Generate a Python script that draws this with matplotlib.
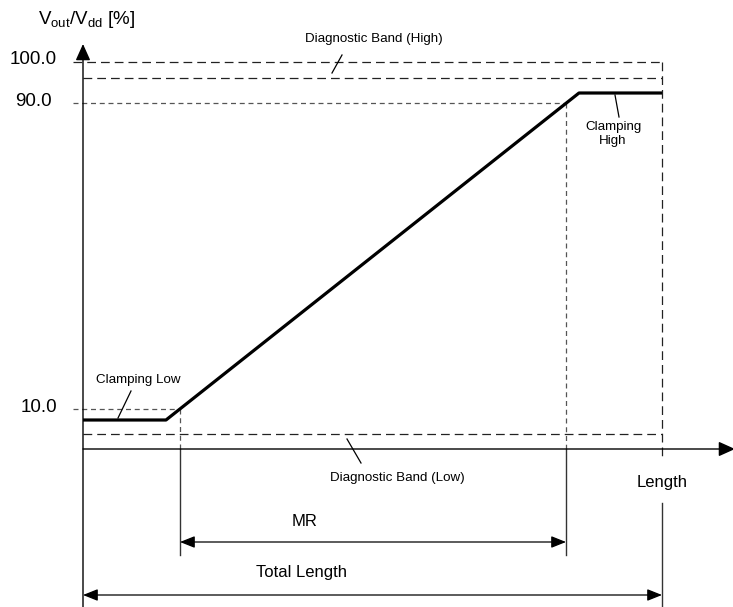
import matplotlib
matplotlib.use("Agg")
import matplotlib.pyplot as plt

plt.rcParams['font.family'] = ['Liberation Sans', 'DejaVu Sans']
plt.rcParams['mathtext.fontset'] = 'custom'
plt.rcParams['mathtext.rm'] = 'Liberation Sans'

# schematic units, origin where the two axes meet
x_axis_end = 652
y_axis_top = 405
y_axis_bottom = -158

# levels on the vertical axis
tick_levels = [40, 346, 387]
tick_labels = ['10.0', '90.0', '100.0']
tick_label_right = [-26, -31, -26]
y_band_high = 371
y_band_low = 15

# positions along the length
x_mr_start = 97
x_mr_end = 483
x_length = 579

# output characteristic (clamp low, ramp, clamp high)
curve_x = [0, 83, 496, 579]
curve_y = [29, 29, 356, 356]

fig = plt.figure(figsize=(7.33, 6.07), dpi=100)
ax = fig.add_axes([0, 0, 1, 1])
ax.set_xlim(-83, 650)
ax.set_ylim(-158, 449)
ax.axis('off')

long_dash = dict(color='#222222', lw=0.9, dashes=(7, 4))
short_dash = dict(color='#555555', lw=0.9, dashes=(4, 3))
solid_thin = dict(color='#333333', lw=1.0)

# axes with arrows
axis_arrow = dict(arrowstyle='-|>,head_length=1.0,head_width=0.45',
                  mutation_scale=10, color='black', lw=1.0,
                  shrinkA=0, shrinkB=0)
ax.annotate('', xy=(0, y_axis_top), xytext=(0, y_axis_bottom),
            arrowprops=axis_arrow, annotation_clip=False)
ax.annotate('', xy=(x_axis_end, 0), xytext=(0, 0),
            arrowprops=axis_arrow, annotation_clip=False)

# horizontal reference lines
y10, y90, y100 = tick_levels
ax.plot([-10, x_length], [y100, y100], **long_dash)
ax.plot([0, x_length], [y_band_high, y_band_high], **long_dash)
ax.plot([-10, x_mr_end], [y90, y90], **short_dash)
ax.plot([-10, x_mr_start], [y10, y10], **short_dash)
ax.plot([0, x_length], [y_band_low, y_band_low], **long_dash)

# vertical reference lines
ax.plot([x_mr_start, x_mr_start], [y10, 0], **short_dash)
ax.plot([x_mr_end, x_mr_end], [y90, 0], **short_dash)
ax.plot([x_mr_start, x_mr_start], [0, -106], **solid_thin)
ax.plot([x_mr_end, x_mr_end], [0, -106], **solid_thin)
ax.plot([x_length, x_length], [y100, -10], **long_dash)
ax.plot([x_length, x_length], [-54, y_axis_bottom], **solid_thin)

# characteristic
ax.plot(curve_x, curve_y, color='black', lw=2.3, solid_capstyle='butt')

# tick labels and axis label
for lvl, lab, xr in zip(tick_levels, tick_labels, tick_label_right):
    ax.text(xr, lvl + 2, lab, ha='right', va='center', fontsize=13.5)
ax.text(4, 429, r'V$_{\mathrm{out}}$/V$_{\mathrm{dd}}$ [%]',
        ha='center', va='center', fontsize=13.5)

# annotations with leader lines
small = 9.6
ax.text(291, 410, 'Diagnostic Band (High)', ha='center', va='center', fontsize=small)
ax.plot([259, 249], [394, 376], color='black', lw=0.9)
ax.text(530, 315, 'Clamping\nHigh', ha='center', va='center', fontsize=small,
        linespacing=1.3)
ax.plot([532, 536], [354, 332], color='black', lw=0.9)
ax.text(55, 69, 'Clamping Low', ha='center', va='center', fontsize=small)
ax.plot([48, 35], [58, 31], color='black', lw=0.9)
ax.text(314, -29, 'Diagnostic Band (Low)', ha='center', va='center', fontsize=small)
ax.plot([264, 278], [10, -14], color='black', lw=0.9)
ax.text(x_length, -33, 'Length', ha='center', va='center', fontsize=12)

# dimension arrows
dim = dict(arrowstyle='<|-|>,head_length=0.75,head_width=0.3', mutation_scale=12,
           color='black', lw=0.9, shrinkA=0, shrinkB=0)
ax.annotate('', xy=(x_mr_end, -93), xytext=(x_mr_start, -93), arrowprops=dim)
ax.text(222, -73, 'MR', ha='center', va='center', fontsize=12)
ax.annotate('', xy=(x_length, -146), xytext=(0, -146), arrowprops=dim)
ax.text(219, -124, 'Total Length', ha='center', va='center', fontsize=12)

fig.savefig('out.png', dpi=100)
